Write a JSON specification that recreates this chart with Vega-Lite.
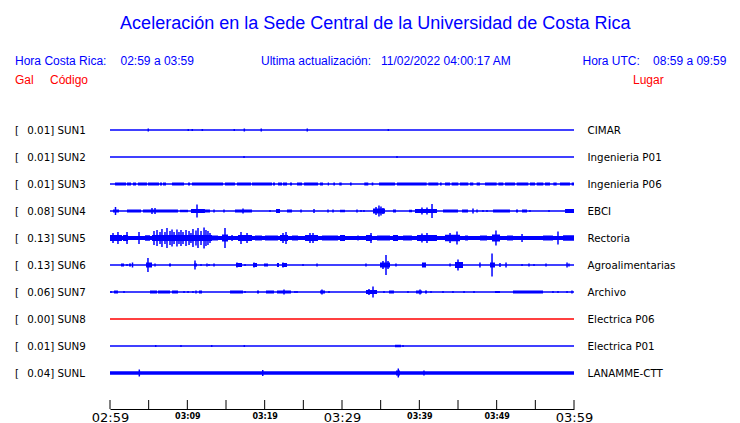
{
  "$schema": "https://vega.github.io/schema/vega-lite/v6.json",
  "width": 464,
  "height": 409,
  "autosize": "none",
  "padding": {"left": 110, "right": 166, "top": 0, "bottom": 14},
  "background": "#ffffff",
  "config": {"view": {"stroke": null}, "axis": {"grid": false}},
  "resolve": {"axis": {"x": "independent", "y": "independent"}},
  "datasets": {
    "stations": [
      {"s": "SUN1", "r": 1, "g": "0.01", "p": "CIMAR"},
      {"s": "SUN2", "r": 2, "g": "0.01", "p": "Ingenieria P01"},
      {"s": "SUN3", "r": 3, "g": "0.01", "p": "Ingenieria P06"},
      {"s": "SUN4", "r": 4, "g": "0.08", "p": "EBCI"},
      {"s": "SUN5", "r": 5, "g": "0.13", "p": "Rectoria"},
      {"s": "SUN6", "r": 6, "g": "0.13", "p": "Agroalimentarias"},
      {"s": "SUN7", "r": 7, "g": "0.06", "p": "Archivo"},
      {"s": "SUN8", "r": 8, "g": "0.00", "p": "Electrica P06"},
      {"s": "SUN9", "r": 9, "g": "0.01", "p": "Electrica P01"},
      {"s": "SUNL", "r": 10, "g": "0.04", "p": "LANAMME-CTT"}
    ],
    "axticks": [
      {"m": 0}, {"m": 5}, {"m": 10}, {"m": 15}, {"m": 20}, {"m": 25}, {"m": 30},
      {"m": 35}, {"m": 40}, {"m": 45}, {"m": 50}, {"m": 55}, {"m": 60}
    ],
    "segs": [
      {"s": "SUN1", "a": 0, "b": 60, "w": 1.3},
      {"s": "SUN2", "a": 0, "b": 60, "w": 1.3},
      {"s": "SUN3", "a": 0, "b": 60, "w": 1.5},
      {"s": "SUN4", "a": 0, "b": 60, "w": 1.5},
      {"s": "SUN5", "a": 0, "b": 60, "w": 4},
      {"s": "SUN6", "a": 0, "b": 60, "w": 1.5},
      {"s": "SUN7", "a": 0, "b": 60, "w": 1.5},
      {"s": "SUN8", "a": 0, "b": 60, "w": 1.3},
      {"s": "SUN9", "a": 0, "b": 60, "w": 1.3},
      {"s": "SUNL", "a": 0, "b": 60, "w": 3.7},
      {"s": "SUN3", "a": 0.65, "b": 2.07, "w": 3},
      {"s": "SUN3", "a": 2.2, "b": 2.72, "w": 3},
      {"s": "SUN3", "a": 2.97, "b": 3.36, "w": 3},
      {"s": "SUN3", "a": 3.62, "b": 4.78, "w": 3},
      {"s": "SUN3", "a": 4.91, "b": 6.34, "w": 3},
      {"s": "SUN3", "a": 6.47, "b": 6.72, "w": 3},
      {"s": "SUN3", "a": 6.85, "b": 7.24, "w": 3},
      {"s": "SUN3", "a": 8.02, "b": 9.57, "w": 3},
      {"s": "SUN3", "a": 10.09, "b": 10.34, "w": 3},
      {"s": "SUN3", "a": 10.6, "b": 14.61, "w": 3},
      {"s": "SUN3", "a": 14.87, "b": 16.16, "w": 3},
      {"s": "SUN3", "a": 16.42, "b": 18.23, "w": 3},
      {"s": "SUN3", "a": 18.36, "b": 20.95, "w": 3},
      {"s": "SUN3", "a": 21.08, "b": 21.34, "w": 3},
      {"s": "SUN3", "a": 21.72, "b": 22.24, "w": 3},
      {"s": "SUN3", "a": 22.37, "b": 22.89, "w": 3},
      {"s": "SUN3", "a": 23.28, "b": 23.53, "w": 3},
      {"s": "SUN3", "a": 24.18, "b": 24.83, "w": 3},
      {"s": "SUN3", "a": 25.09, "b": 26.9, "w": 3},
      {"s": "SUN3", "a": 27.16, "b": 27.54, "w": 3},
      {"s": "SUN3", "a": 28.15, "b": 28.32, "w": 3},
      {"s": "SUN3", "a": 28.88, "b": 29.09, "w": 3},
      {"s": "SUN3", "a": 29.65, "b": 29.96, "w": 3},
      {"s": "SUN3", "a": 31.03, "b": 31.25, "w": 3},
      {"s": "SUN3", "a": 32.88, "b": 33.4, "w": 3},
      {"s": "SUN3", "a": 33.84, "b": 34.05, "w": 3},
      {"s": "SUN3", "a": 34.78, "b": 36.85, "w": 3},
      {"s": "SUN3", "a": 37.11, "b": 40.95, "w": 3},
      {"s": "SUN3", "a": 41.16, "b": 42.45, "w": 3},
      {"s": "SUN3", "a": 42.67, "b": 42.89, "w": 3},
      {"s": "SUN3", "a": 43.32, "b": 43.97, "w": 3},
      {"s": "SUN3", "a": 44.18, "b": 45.04, "w": 3},
      {"s": "SUN3", "a": 45.26, "b": 46.33, "w": 3},
      {"s": "SUN3", "a": 46.55, "b": 46.98, "w": 3},
      {"s": "SUN3", "a": 47.41, "b": 47.84, "w": 3},
      {"s": "SUN3", "a": 48.49, "b": 50.0, "w": 3},
      {"s": "SUN3", "a": 50.22, "b": 50.86, "w": 3},
      {"s": "SUN3", "a": 51.08, "b": 52.37, "w": 3},
      {"s": "SUN3", "a": 52.59, "b": 54.09, "w": 3},
      {"s": "SUN3", "a": 54.31, "b": 54.96, "w": 3},
      {"s": "SUN3", "a": 55.18, "b": 56.03, "w": 3},
      {"s": "SUN3", "a": 56.25, "b": 56.9, "w": 3},
      {"s": "SUN3", "a": 57.33, "b": 57.76, "w": 3},
      {"s": "SUN3", "a": 58.19, "b": 59.48, "w": 3},
      {"s": "SUN3", "a": 59.7, "b": 60.0, "w": 3},
      {"s": "SUN4", "a": 0.39, "b": 1.16, "w": 3},
      {"s": "SUN4", "a": 2.2, "b": 4.01, "w": 3},
      {"s": "SUN4", "a": 4.27, "b": 8.79, "w": 3},
      {"s": "SUN4", "a": 9.05, "b": 10.09, "w": 2.5},
      {"s": "SUN4", "a": 10.47, "b": 12.28, "w": 4},
      {"s": "SUN4", "a": 12.28, "b": 12.93, "w": 3},
      {"s": "SUN4", "a": 16.16, "b": 18.36, "w": 3},
      {"s": "SUN4", "a": 21.47, "b": 21.98, "w": 4},
      {"s": "SUN4", "a": 22.89, "b": 23.53, "w": 3},
      {"s": "SUN4", "a": 29.74, "b": 30.39, "w": 2.5},
      {"s": "SUN4", "a": 34.01, "b": 35.56, "w": 5},
      {"s": "SUN4", "a": 36.59, "b": 36.98, "w": 3},
      {"s": "SUN4", "a": 38.66, "b": 39.05, "w": 2.5},
      {"s": "SUN4", "a": 39.44, "b": 42.28, "w": 4},
      {"s": "SUN4", "a": 43.06, "b": 45.0, "w": 3},
      {"s": "SUN4", "a": 45.52, "b": 46.29, "w": 3},
      {"s": "SUN4", "a": 49.53, "b": 51.72, "w": 3},
      {"s": "SUN4", "a": 52.5, "b": 52.76, "w": 3},
      {"s": "SUN4", "a": 53.28, "b": 53.92, "w": 3},
      {"s": "SUN4", "a": 58.84, "b": 60.0, "w": 4},
      {"s": "SUN5", "a": 0, "b": 1.55, "w": 6},
      {"s": "SUN5", "a": 1.68, "b": 2.33, "w": 6},
      {"s": "SUN5", "a": 4.53, "b": 5.17, "w": 5.5},
      {"s": "SUN5", "a": 5.43, "b": 13.19, "w": 6},
      {"s": "SUN5", "a": 13.19, "b": 13.97, "w": 5},
      {"s": "SUN5", "a": 14.48, "b": 15.26, "w": 7},
      {"s": "SUN5", "a": 16.55, "b": 18.36, "w": 6},
      {"s": "SUN5", "a": 18.75, "b": 19.66, "w": 5},
      {"s": "SUN5", "a": 20.04, "b": 21.72, "w": 5},
      {"s": "SUN5", "a": 21.98, "b": 23.02, "w": 6},
      {"s": "SUN5", "a": 23.53, "b": 24.31, "w": 5},
      {"s": "SUN5", "a": 25.22, "b": 26.9, "w": 6},
      {"s": "SUN5", "a": 27.41, "b": 29.48, "w": 5},
      {"s": "SUN5", "a": 29.74, "b": 30.39, "w": 6},
      {"s": "SUN5", "a": 33.1, "b": 33.88, "w": 6},
      {"s": "SUN5", "a": 34.53, "b": 36.21, "w": 5},
      {"s": "SUN5", "a": 36.59, "b": 37.24, "w": 6},
      {"s": "SUN5", "a": 37.89, "b": 39.05, "w": 5},
      {"s": "SUN5", "a": 39.7, "b": 42.28, "w": 6},
      {"s": "SUN5", "a": 43.32, "b": 45.26, "w": 6.5},
      {"s": "SUN5", "a": 45.91, "b": 46.29, "w": 5},
      {"s": "SUN5", "a": 47.84, "b": 48.75, "w": 5},
      {"s": "SUN5", "a": 49.4, "b": 50.43, "w": 7},
      {"s": "SUN5", "a": 51.34, "b": 52.11, "w": 5},
      {"s": "SUN5", "a": 55.99, "b": 57.28, "w": 5},
      {"s": "SUN5", "a": 58.58, "b": 60.0, "w": 5.5},
      {"s": "SUN6", "a": 1.42, "b": 1.81, "w": 3},
      {"s": "SUN6", "a": 2.46, "b": 2.72, "w": 3},
      {"s": "SUN6", "a": 4.66, "b": 5.43, "w": 5},
      {"s": "SUN6", "a": 7.63, "b": 7.89, "w": 3},
      {"s": "SUN6", "a": 10.86, "b": 11.25, "w": 3},
      {"s": "SUN6", "a": 16.29, "b": 17.07, "w": 4},
      {"s": "SUN6", "a": 18.49, "b": 19.01, "w": 4},
      {"s": "SUN6", "a": 19.91, "b": 20.43, "w": 3},
      {"s": "SUN6", "a": 21.59, "b": 21.85, "w": 4},
      {"s": "SUN6", "a": 22.24, "b": 22.89, "w": 4},
      {"s": "SUN6", "a": 34.91, "b": 36.21, "w": 5},
      {"s": "SUN6", "a": 40.34, "b": 40.86, "w": 5},
      {"s": "SUN6", "a": 44.61, "b": 45.65, "w": 6},
      {"s": "SUN6", "a": 49.14, "b": 49.78, "w": 5},
      {"s": "SUN7", "a": 0.52, "b": 1.03, "w": 3},
      {"s": "SUN7", "a": 5.17, "b": 6.08, "w": 3},
      {"s": "SUN7", "a": 6.21, "b": 7.76, "w": 3},
      {"s": "SUN7", "a": 8.02, "b": 8.79, "w": 3},
      {"s": "SUN7", "a": 11.51, "b": 11.9, "w": 3},
      {"s": "SUN7", "a": 15.52, "b": 17.2, "w": 3},
      {"s": "SUN7", "a": 19.01, "b": 19.27, "w": 3},
      {"s": "SUN7", "a": 20.17, "b": 21.21, "w": 3},
      {"s": "SUN7", "a": 21.59, "b": 23.41, "w": 3},
      {"s": "SUN7", "a": 27.16, "b": 27.8, "w": 3},
      {"s": "SUN7", "a": 33.1, "b": 34.53, "w": 4},
      {"s": "SUN7", "a": 36.08, "b": 36.72, "w": 3},
      {"s": "SUN7", "a": 39.57, "b": 40.34, "w": 3},
      {"s": "SUN7", "a": 40.73, "b": 40.99, "w": 3},
      {"s": "SUN7", "a": 49.78, "b": 50.43, "w": 2},
      {"s": "SUN7", "a": 52.11, "b": 55.99, "w": 3},
      {"s": "SUN9", "a": 36.85, "b": 37.63, "w": 2.5},
      {"s": "SUNL", "a": 36.98, "b": 37.5, "w": 5}
    ],
    "spikes": [
      {"s": "SUN1", "t": 4.95, "a": 3}, {"s": "SUN1", "t": 10.12, "a": 2}, {"s": "SUN1", "t": 10.64, "a": 2},
      {"s": "SUN1", "t": 11.94, "a": 2}, {"s": "SUN1", "t": 16.07, "a": 2}, {"s": "SUN1", "t": 17.37, "a": 3},
      {"s": "SUN1", "t": 19.56, "a": 3}, {"s": "SUN1", "t": 25.51, "a": 3}, {"s": "SUN1", "t": 35.99, "a": 2},
      {"s": "SUN2", "t": 17.33, "a": 2}, {"s": "SUN2", "t": 37.11, "a": 2},
      {"s": "SUN4", "t": 0.71, "a": 8}, {"s": "SUN4", "t": 5.43, "a": 6}, {"s": "SUN4", "t": 5.82, "a": 6},
      {"s": "SUN4", "t": 11.25, "a": 13}, {"s": "SUN4", "t": 13.45, "a": 3}, {"s": "SUN4", "t": 14.74, "a": 3},
      {"s": "SUN4", "t": 17.2, "a": 5}, {"s": "SUN4", "t": 20.69, "a": 2}, {"s": "SUN4", "t": 24.7, "a": 3},
      {"s": "SUN4", "t": 26.38, "a": 4}, {"s": "SUN4", "t": 28.19, "a": 3}, {"s": "SUN4", "t": 28.84, "a": 3},
      {"s": "SUN4", "t": 31.94, "a": 3}, {"s": "SUN4", "t": 32.46, "a": 2}, {"s": "SUN4", "t": 32.84, "a": 2},
      {"s": "SUN4", "t": 34.4, "a": 8}, {"s": "SUN4", "t": 34.78, "a": 11}, {"s": "SUN4", "t": 35.04, "a": 9},
      {"s": "SUN4", "t": 35.3, "a": 6}, {"s": "SUN4", "t": 40.34, "a": 7}, {"s": "SUN4", "t": 40.99, "a": 7},
      {"s": "SUN4", "t": 41.64, "a": 14}, {"s": "SUN4", "t": 46.94, "a": 5}, {"s": "SUN4", "t": 47.46, "a": 3},
      {"s": "SUN4", "t": 48.23, "a": 2}, {"s": "SUN4", "t": 48.75, "a": 2}, {"s": "SUN4", "t": 54.31, "a": 2},
      {"s": "SUN4", "t": 56.77, "a": 2},
      {"s": "SUN5", "t": 0.39, "a": 10}, {"s": "SUN5", "t": 1.03, "a": 12}, {"s": "SUN5", "t": 2.2, "a": 12},
      {"s": "SUN5", "t": 3.75, "a": 12}, {"s": "SUN5", "t": 5.69, "a": 14}, {"s": "SUN5", "t": 6.08, "a": 16},
      {"s": "SUN5", "t": 6.47, "a": 12}, {"s": "SUN5", "t": 6.72, "a": 18}, {"s": "SUN5", "t": 7.11, "a": 12},
      {"s": "SUN5", "t": 7.37, "a": 20}, {"s": "SUN5", "t": 7.76, "a": 14}, {"s": "SUN5", "t": 8.02, "a": 17},
      {"s": "SUN5", "t": 8.28, "a": 12}, {"s": "SUN5", "t": 8.66, "a": 17}, {"s": "SUN5", "t": 8.92, "a": 12},
      {"s": "SUN5", "t": 9.18, "a": 16}, {"s": "SUN5", "t": 9.44, "a": 12}, {"s": "SUN5", "t": 9.83, "a": 16},
      {"s": "SUN5", "t": 10.22, "a": 14}, {"s": "SUN5", "t": 10.47, "a": 10}, {"s": "SUN5", "t": 10.73, "a": 18},
      {"s": "SUN5", "t": 11.12, "a": 15}, {"s": "SUN5", "t": 11.38, "a": 20}, {"s": "SUN5", "t": 11.77, "a": 14},
      {"s": "SUN5", "t": 12.16, "a": 21}, {"s": "SUN5", "t": 12.41, "a": 16}, {"s": "SUN5", "t": 12.67, "a": 14},
      {"s": "SUN5", "t": 12.93, "a": 10}, {"s": "SUN5", "t": 14.87, "a": 20}, {"s": "SUN5", "t": 15.78, "a": 6},
      {"s": "SUN5", "t": 16.94, "a": 12}, {"s": "SUN5", "t": 17.72, "a": 10}, {"s": "SUN5", "t": 22.37, "a": 10},
      {"s": "SUN5", "t": 22.76, "a": 12}, {"s": "SUN5", "t": 25.86, "a": 10}, {"s": "SUN5", "t": 26.25, "a": 10},
      {"s": "SUN5", "t": 32.07, "a": 5}, {"s": "SUN5", "t": 33.75, "a": 10}, {"s": "SUN5", "t": 40.34, "a": 9},
      {"s": "SUN5", "t": 40.99, "a": 10}, {"s": "SUN5", "t": 43.97, "a": 10}, {"s": "SUN5", "t": 44.87, "a": 13},
      {"s": "SUN5", "t": 49.91, "a": 15}, {"s": "SUN5", "t": 53.28, "a": 8}, {"s": "SUN5", "t": 57.93, "a": 13},
      {"s": "SUN6", "t": 2.2, "a": 2}, {"s": "SUN6", "t": 2.91, "a": 5}, {"s": "SUN6", "t": 4.91, "a": 14},
      {"s": "SUN6", "t": 5.82, "a": 3}, {"s": "SUN6", "t": 10.99, "a": 9}, {"s": "SUN6", "t": 11.77, "a": 2},
      {"s": "SUN6", "t": 12.54, "a": 3}, {"s": "SUN6", "t": 12.8, "a": 2}, {"s": "SUN6", "t": 13.45, "a": 3},
      {"s": "SUN6", "t": 16.42, "a": 5}, {"s": "SUN6", "t": 17.46, "a": 2}, {"s": "SUN6", "t": 18.62, "a": 5},
      {"s": "SUN6", "t": 22.37, "a": 5}, {"s": "SUN6", "t": 24.96, "a": 2}, {"s": "SUN6", "t": 26.77, "a": 3},
      {"s": "SUN6", "t": 33.1, "a": 3}, {"s": "SUN6", "t": 35.3, "a": 8}, {"s": "SUN6", "t": 35.69, "a": 20},
      {"s": "SUN6", "t": 35.95, "a": 8}, {"s": "SUN6", "t": 36.98, "a": 3}, {"s": "SUN6", "t": 43.97, "a": 3},
      {"s": "SUN6", "t": 45.0, "a": 11}, {"s": "SUN6", "t": 47.84, "a": 5}, {"s": "SUN6", "t": 49.4, "a": 23},
      {"s": "SUN6", "t": 50.43, "a": 4}, {"s": "SUN6", "t": 51.21, "a": 5}, {"s": "SUN6", "t": 53.28, "a": 2},
      {"s": "SUN6", "t": 54.18, "a": 3}, {"s": "SUN6", "t": 54.83, "a": 2}, {"s": "SUN6", "t": 56.38, "a": 3},
      {"s": "SUN6", "t": 59.1, "a": 5}, {"s": "SUN6", "t": 59.35, "a": 3},
      {"s": "SUN7", "t": 0.13, "a": 2}, {"s": "SUN7", "t": 1.81, "a": 2}, {"s": "SUN7", "t": 9.57, "a": 2},
      {"s": "SUN7", "t": 10.09, "a": 2}, {"s": "SUN7", "t": 10.73, "a": 2}, {"s": "SUN7", "t": 11.12, "a": 3},
      {"s": "SUN7", "t": 17.46, "a": 2}, {"s": "SUN7", "t": 22.5, "a": 5}, {"s": "SUN7", "t": 23.92, "a": 2},
      {"s": "SUN7", "t": 24.18, "a": 2}, {"s": "SUN7", "t": 27.41, "a": 5}, {"s": "SUN7", "t": 28.32, "a": 2},
      {"s": "SUN7", "t": 33.49, "a": 6}, {"s": "SUN7", "t": 34.01, "a": 11}, {"s": "SUN7", "t": 35.43, "a": 2},
      {"s": "SUN7", "t": 38.53, "a": 2}, {"s": "SUN7", "t": 40.09, "a": 5}, {"s": "SUN7", "t": 41.51, "a": 2},
      {"s": "SUN7", "t": 43.06, "a": 2}, {"s": "SUN7", "t": 44.35, "a": 2}, {"s": "SUN7", "t": 45.78, "a": 2},
      {"s": "SUN7", "t": 47.07, "a": 2}, {"s": "SUN7", "t": 57.28, "a": 2}, {"s": "SUN7", "t": 57.93, "a": 2},
      {"s": "SUN7", "t": 59.1, "a": 2}, {"s": "SUN7", "t": 59.74, "a": 3},
      {"s": "SUN9", "t": 5.91, "a": 2}, {"s": "SUN9", "t": 9.18, "a": 2}, {"s": "SUN9", "t": 13.15, "a": 2},
      {"s": "SUN9", "t": 17.37, "a": 2}, {"s": "SUN9", "t": 37.89, "a": 2},
      {"s": "SUNL", "t": 3.79, "a": 7}, {"s": "SUNL", "t": 19.75, "a": 6}, {"s": "SUNL", "t": 37.28, "a": 9},
      {"s": "SUNL", "t": 40.6, "a": 5}
    ]
  },
  "layer": [
    {
      "data": {"name": "axticks"},
      "mark": {"type": "rule", "color": "#000000", "strokeWidth": 1},
      "encoding": {
        "x": {
          "field": "m", "type": "quantitative",
          "scale": {"domain": [0, 60], "nice": false, "zero": false},
          "axis": {
            "values": [0, 5, 10, 15, 20, 25, 30, 35, 40, 45, 50, 55, 60],
            "title": null, "grid": false, "ticks": false,
            "domain": true, "domainColor": "#000000", "domainWidth": 1,
            "labelExpr": "datum.value == 0 ? '02:59' : datum.value == 10 ? '03:09' : datum.value == 20 ? '03:19' : datum.value == 30 ? '03:29' : datum.value == 40 ? '03:39' : datum.value == 50 ? '03:49' : datum.value == 60 ? '03:59' : ''",
            "labelFont": "DejaVu Sans",
            "labelFontSize": {"condition": {"test": "datum.value % 30 == 0", "value": 13}, "value": 8},
            "labelFontWeight": {"condition": {"test": "datum.value % 30 == 0", "value": "normal"}, "value": "bold"},
            "labelBaseline": "alphabetic",
            "labelPadding": {"condition": {"test": "datum.value % 30 == 0", "value": 12}, "value": 9.5},
            "labelColor": "#000000",
            "labelFlush": false, "labelOverlap": false, "labelBound": false
          }
        },
        "y": {"datum": 11.0, "type": "quantitative", "scale": {"domain": [-3.8148, 11.3333], "nice": false, "zero": false, "reverse": true}, "axis": null},
        "y2": {"datum": 11.3333}
      }
    },
    {
      "data": {"name": "segs"},
      "transform": [{"lookup": "s", "from": {"data": {"name": "stations"}, "key": "s", "fields": ["r"]}}],
      "mark": {"type": "rule", "strokeCap": "butt"},
      "encoding": {
        "x": {"field": "a", "type": "quantitative", "scale": {"domain": [0, 60], "nice": false, "zero": false}, "axis": null},
        "x2": {"field": "b"},
        "y": {"field": "r", "type": "quantitative", "scale": {"domain": [-3.8148, 11.3333], "nice": false, "zero": false, "reverse": true}, "axis": null},
        "strokeWidth": {"field": "w", "type": "quantitative", "scale": {"domain": [0, 20], "range": [0, 20]}, "legend": null},
        "color": {"condition": {"test": "datum.s === 'SUN8'", "value": "#ff0000"}, "value": "#0000ff"}
      }
    },
    {
      "data": {"name": "spikes"},
      "transform": [{"lookup": "s", "from": {"data": {"name": "stations"}, "key": "s", "fields": ["r"]}}],
      "mark": {"type": "tick", "orient": "vertical", "thickness": 1.5, "opacity": 1},
      "encoding": {
        "x": {"field": "t", "type": "quantitative", "scale": {"domain": [0, 60], "nice": false, "zero": false}, "axis": null},
        "y": {"field": "r", "type": "quantitative", "scale": {"domain": [-3.8148, 11.3333], "nice": false, "zero": false, "reverse": true}, "axis": null},
        "size": {"field": "a", "type": "quantitative", "scale": {"domain": [0, 30], "range": [0, 30]}, "legend": null},
        "color": {"condition": {"test": "datum.s === 'SUN8'", "value": "#ff0000"}, "value": "#0000ff"}
      }
    },
    {
      "data": {"name": "stations"},
      "mark": {"type": "text", "align": "left", "baseline": "middle", "dy": 1, "font": "DejaVu Sans", "fontSize": 10.3, "color": "#000000"},
      "encoding": {
        "x": {"datum": -12.28, "type": "quantitative", "scale": {"domain": [0, 60], "nice": false, "zero": false}, "axis": null},
        "y": {"field": "r", "type": "quantitative", "scale": {"domain": [-3.8148, 11.3333], "nice": false, "zero": false, "reverse": true}, "axis": null},
        "text": {"value": "["}
      }
    },
    {
      "data": {"name": "stations"},
      "transform": [{"calculate": "datum.g + '] ' + datum.s", "as": "lbl"}],
      "mark": {"type": "text", "align": "left", "baseline": "middle", "dy": 1, "font": "DejaVu Sans", "fontSize": 10.3, "color": "#000000"},
      "encoding": {
        "x": {"datum": -10.7, "type": "quantitative", "scale": {"domain": [0, 60], "nice": false, "zero": false}, "axis": null},
        "y": {"field": "r", "type": "quantitative", "scale": {"domain": [-3.8148, 11.3333], "nice": false, "zero": false, "reverse": true}, "axis": null},
        "text": {"field": "lbl"}
      }
    },
    {
      "data": {"name": "stations"},
      "mark": {"type": "text", "align": "left", "baseline": "middle", "dy": 1, "font": "DejaVu Sans", "fontSize": 10.3, "color": "#000000"},
      "encoding": {
        "x": {"datum": 61.75, "type": "quantitative", "scale": {"domain": [0, 60], "nice": false, "zero": false}, "axis": null},
        "y": {"field": "r", "type": "quantitative", "scale": {"domain": [-3.8148, 11.3333], "nice": false, "zero": false, "reverse": true}, "axis": null},
        "text": {"field": "p"}
      }
    },
    {
      "data": {"values": [{}]},
      "mark": {"type": "text", "align": "center", "baseline": "alphabetic", "font": "Liberation Sans", "fontSize": 18, "color": "#0000ff"},
      "encoding": {
        "x": {"datum": 34.3, "type": "quantitative", "scale": {"domain": [0, 60], "nice": false, "zero": false}, "axis": null},
        "y": {"datum": -2.73, "type": "quantitative", "scale": {"domain": [-3.8148, 11.3333], "nice": false, "zero": false, "reverse": true}, "axis": null},
        "text": {"value": "Aceleración en la Sede Central de la Universidad de Costa Rica"}
      }
    },
    {
      "data": {"values": [{}]},
      "mark": {"type": "text", "align": "left", "baseline": "alphabetic", "font": "Liberation Sans", "fontSize": 12, "color": "#0000ff"},
      "encoding": {
        "x": {"datum": -12.28, "type": "quantitative", "scale": {"domain": [0, 60], "nice": false, "zero": false}, "axis": null},
        "y": {"datum": -1.407, "type": "quantitative", "scale": {"domain": [-3.8148, 11.3333], "nice": false, "zero": false, "reverse": true}, "axis": null},
        "text": {"value": "Hora Costa Rica:"}
      }
    },
    {
      "data": {"values": [{}]},
      "mark": {"type": "text", "align": "left", "baseline": "alphabetic", "font": "Liberation Sans", "fontSize": 12, "color": "#0000ff"},
      "encoding": {
        "x": {"datum": 1.36, "type": "quantitative", "scale": {"domain": [0, 60], "nice": false, "zero": false}, "axis": null},
        "y": {"datum": -1.407, "type": "quantitative", "scale": {"domain": [-3.8148, 11.3333], "nice": false, "zero": false, "reverse": true}, "axis": null},
        "text": {"value": "02:59 a 03:59"}
      }
    },
    {
      "data": {"values": [{}]},
      "mark": {"type": "text", "align": "left", "baseline": "alphabetic", "font": "Liberation Sans", "fontSize": 12, "color": "#0000ff"},
      "encoding": {
        "x": {"datum": 19.53, "type": "quantitative", "scale": {"domain": [0, 60], "nice": false, "zero": false}, "axis": null},
        "y": {"datum": -1.407, "type": "quantitative", "scale": {"domain": [-3.8148, 11.3333], "nice": false, "zero": false, "reverse": true}, "axis": null},
        "text": {"value": "Ultima actualización:"}
      }
    },
    {
      "data": {"values": [{}]},
      "mark": {"type": "text", "align": "left", "baseline": "alphabetic", "font": "Liberation Sans", "fontSize": 12, "color": "#0000ff"},
      "encoding": {
        "x": {"datum": 35.04, "type": "quantitative", "scale": {"domain": [0, 60], "nice": false, "zero": false}, "axis": null},
        "y": {"datum": -1.407, "type": "quantitative", "scale": {"domain": [-3.8148, 11.3333], "nice": false, "zero": false, "reverse": true}, "axis": null},
        "text": {"value": "11/02/2022 04:00:17 AM"}
      }
    },
    {
      "data": {"values": [{}]},
      "mark": {"type": "text", "align": "left", "baseline": "alphabetic", "font": "Liberation Sans", "fontSize": 12, "color": "#0000ff"},
      "encoding": {
        "x": {"datum": 61.1, "type": "quantitative", "scale": {"domain": [0, 60], "nice": false, "zero": false}, "axis": null},
        "y": {"datum": -1.407, "type": "quantitative", "scale": {"domain": [-3.8148, 11.3333], "nice": false, "zero": false, "reverse": true}, "axis": null},
        "text": {"value": "Hora UTC:"}
      }
    },
    {
      "data": {"values": [{}]},
      "mark": {"type": "text", "align": "left", "baseline": "alphabetic", "font": "Liberation Sans", "fontSize": 12, "color": "#0000ff"},
      "encoding": {
        "x": {"datum": 70.22, "type": "quantitative", "scale": {"domain": [0, 60], "nice": false, "zero": false}, "axis": null},
        "y": {"datum": -1.407, "type": "quantitative", "scale": {"domain": [-3.8148, 11.3333], "nice": false, "zero": false, "reverse": true}, "axis": null},
        "text": {"value": "08:59 a 09:59"}
      }
    },
    {
      "data": {"values": [{}]},
      "mark": {"type": "text", "align": "left", "baseline": "alphabetic", "font": "Liberation Sans", "fontSize": 12, "color": "#ff0000"},
      "encoding": {
        "x": {"datum": -12.28, "type": "quantitative", "scale": {"domain": [0, 60], "nice": false, "zero": false}, "axis": null},
        "y": {"datum": -0.693, "type": "quantitative", "scale": {"domain": [-3.8148, 11.3333], "nice": false, "zero": false, "reverse": true}, "axis": null},
        "text": {"value": "Gal"}
      }
    },
    {
      "data": {"values": [{}]},
      "mark": {"type": "text", "align": "left", "baseline": "alphabetic", "font": "Liberation Sans", "fontSize": 12, "color": "#ff0000"},
      "encoding": {
        "x": {"datum": -7.76, "type": "quantitative", "scale": {"domain": [0, 60], "nice": false, "zero": false}, "axis": null},
        "y": {"datum": -0.693, "type": "quantitative", "scale": {"domain": [-3.8148, 11.3333], "nice": false, "zero": false, "reverse": true}, "axis": null},
        "text": {"value": "Código"}
      }
    },
    {
      "data": {"values": [{}]},
      "mark": {"type": "text", "align": "left", "baseline": "alphabetic", "font": "Liberation Sans", "fontSize": 12, "color": "#ff0000"},
      "encoding": {
        "x": {"datum": 67.63, "type": "quantitative", "scale": {"domain": [0, 60], "nice": false, "zero": false}, "axis": null},
        "y": {"datum": -0.693, "type": "quantitative", "scale": {"domain": [-3.8148, 11.3333], "nice": false, "zero": false, "reverse": true}, "axis": null},
        "text": {"value": "Lugar"}
      }
    }
  ]
}
